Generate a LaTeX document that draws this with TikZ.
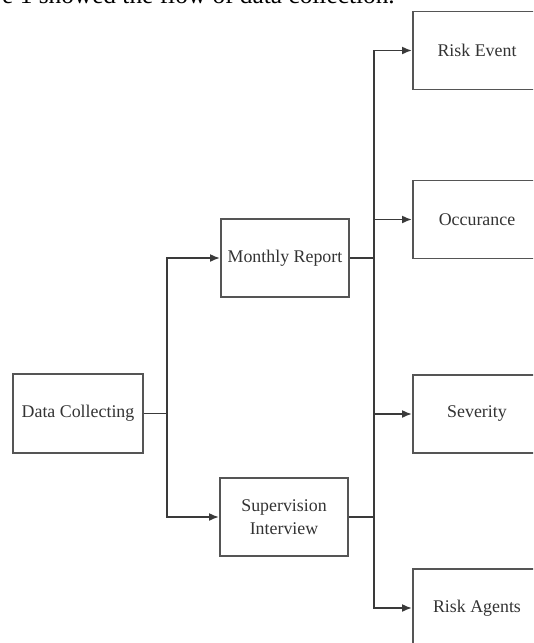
\documentclass[tikz,border=0pt]{standalone}
\usepackage{fontspec}
\setmainfont{Liberation Serif}
\usetikzlibrary{arrows.meta}
\definecolor{boxline}{HTML}{555555}
\definecolor{conn}{HTML}{3A3A3A}
\definecolor{txt}{HTML}{333333}
\begin{document}
\begin{tikzpicture}[x=0.75pt,y=-0.75pt,
  box/.style={draw=boxline,line width=1.4pt,rectangle,minimum width=96pt,minimum height=58.5pt,
    inner sep=0pt,align=center,text=txt,font=\fontsize{13.4}{15.5}\selectfont},
  conn/.style={draw=conn,line width=1.4pt},
  arr/.style={conn,-{Latex[length=7.5pt,width=6pt]}}]
\useasboundingbox (0,0) rectangle (533,643);
\clip (0,0) rectangle (533,643);
\node[anchor=base east,text=black,font=\fontsize{19}{22}\selectfont,inner sep=0pt] (cap) at (395,3.5) {e 1 showed the flow of data collection.};
\node[box,minimum width=97.5pt,minimum height=59.25pt] (dc) at (78,413.5) {Data Collecting};
\node[box] (mr) at (285,258) {Monthly Report};
\node[box] (si) at (284,517) {Supervision\\[2pt]Interview};
\node[box] (re) at (477,50.5) {Risk Event};
\node[box] (oc) at (477,219.5) {Occurance};
\node[box] (sv) at (477,414) {Severity};
\node[box] (ra) at (477,608) {Risk Agents};
\coordinate (j1) at (167,413.5);
\coordinate (j2) at (374,258);
\coordinate (j3) at (374,517);
\draw[conn] (dc.east) -- (j1);
\draw[arr] (j1) |- (mr.west);
\draw[arr] (j1) |- (si.west);
\draw[conn] (mr.east) -- (j2);
\draw[conn] (si.east) -- (j3);
\draw[conn] (j2) -- (j3);
\draw[arr] (j2) |- (re.west);
\draw[arr] (j2) |- (oc.west);
\draw[arr] (j3) |- (sv.west);
\draw[arr] (j3) |- (ra.west);
\end{tikzpicture}
\end{document}
